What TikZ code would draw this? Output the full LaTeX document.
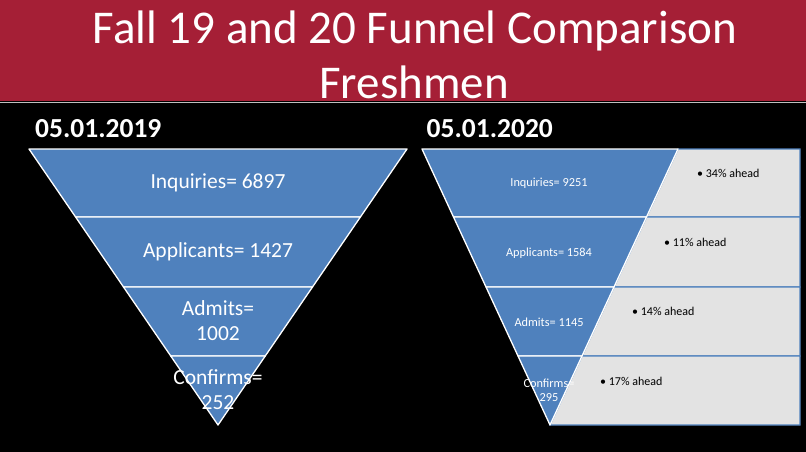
\documentclass[tikz,border=0pt]{standalone}
\usepackage{fontspec}
\setmainfont{Carlito}
\definecolor{banner}{HTML}{A51F36}
\definecolor{fblue}{HTML}{4F81BD}
\definecolor{boxgrey}{HTML}{E3E3E3}
\definecolor{lineg}{HTML}{BFBFBF}
\begin{document}
\begin{tikzpicture}[x=1pt,y=-1pt,
  band/.style={fill=fblue,draw=white,line width=1.3pt,line join=round},
  greybox/.style={fill=boxgrey,draw=fblue,line width=1.3pt},
  biglabel/.style={text=white,font=\fontsize{21.5}{25}\selectfont,align=center,inner sep=0pt},
  smalllabel/.style={text=white,font=\fontsize{12.3}{13.5}\selectfont,align=center,inner sep=0pt},
  note/.style={text=black,font=\fontsize{12}{14}\selectfont,anchor=west,inner sep=0pt},
  datehead/.style={text=white,font=\bfseries\fontsize{27.5}{30}\selectfont,anchor=base west,inner sep=0pt},
  titletext/.style={text=white,font=\fontsize{47}{55}\selectfont,align=center,inner sep=0pt}]
\useasboundingbox (0,0) rectangle (806,452);
\fill[black] (0,0) rectangle (806,452);
% banner
\fill[banner] (0,0) rectangle (806,101);
\draw[lineg,line width=1.5pt] (0,102.5) -- (806,102.5);
\node[titletext,anchor=base] (title1) at (415,44) {Fall 19 and 20 Funnel Comparison};
\node[titletext,anchor=base] (title2) at (414,99) {Freshmen};
% date headings
\node[datehead] (d1) at (35,137) {05.01.2019};
\node[datehead] (d2) at (426.5,137) {05.01.2020};
% left funnel
\draw[band] (29,149) -- (407,149) -- (360.4,217) -- (75.6,217) -- cycle;
\draw[band] (75.6,217) -- (360.4,217) -- (312.5,287) -- (123.5,287) -- cycle;
\draw[band] (123.5,287) -- (312.5,287) -- (265.25,356) -- (170.75,356) -- cycle;
\draw[band] (170.75,356) -- (265.25,356) -- (218,425) -- cycle;
\node[biglabel] (l1) at (218,183) {Inquiries= 6897};
\node[biglabel] (l2) at (218,252) {Applicants= 1427};
\node[biglabel] (l3) at (218,320.5) {Admits=\\1002};
\node[biglabel] (l4) at (218,390) {Confirms=\\252};
% right grey boxes
\draw[greybox] (678,149) -- (800,149) -- (800,217) -- (646.5,217) -- cycle;
\draw[greybox] (646.5,217) -- (800,217) -- (800,287) -- (614,287) -- cycle;
\draw[greybox] (614,287) -- (800,287) -- (800,356) -- (582,356) -- cycle;
\draw[greybox] (582,356) -- (800,356) -- (800,425) -- (550,425) -- cycle;
% right funnel
\draw[band] (422,149) -- (678,149) -- (646.5,217) -- (453.5,217) -- cycle;
\draw[band] (453.5,217) -- (646.5,217) -- (614,287) -- (486,287) -- cycle;
\draw[band] (486,287) -- (614,287) -- (582,356) -- (518,356) -- cycle;
\draw[band] (518,356) -- (582,356) -- (550,425) -- cycle;
\node[smalllabel] (r1) at (549,183) {Inquiries= 9251};
\node[smalllabel] (r2) at (549,253) {Applicants= 1584};
\node[smalllabel] (r3) at (549,322) {Admits= 1145};
\node[smalllabel] (r4) at (549,390.5) {Confirms=\\295};
% notes
\node[note] (n1) at (697,173) {\textbullet\ 34\% ahead};
\node[note] (n2) at (664,242) {\textbullet\ 11\% ahead};
\node[note] (n3) at (632,311) {\textbullet\ 14\% ahead};
\node[note] (n4) at (600,381) {\textbullet\ 17\% ahead};
\end{tikzpicture}
\end{document}
